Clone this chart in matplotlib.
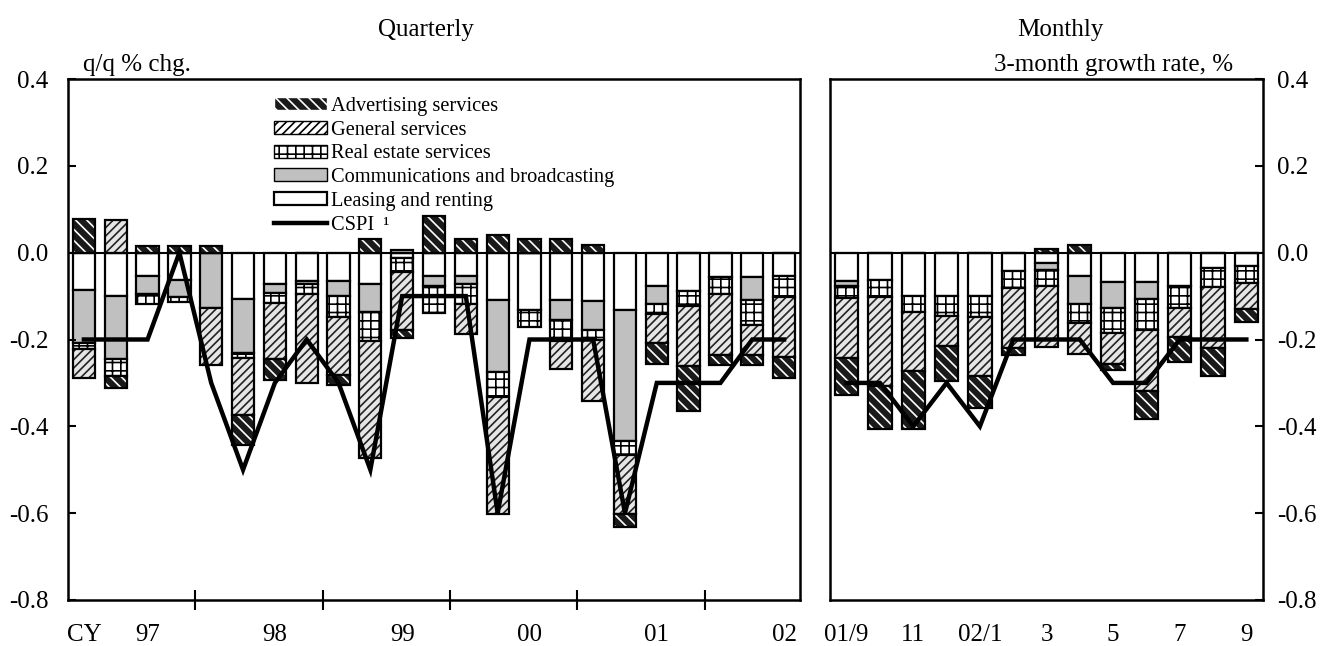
import numpy as np
import matplotlib.pyplot as plt
from matplotlib.patches import Patch
from matplotlib.lines import Line2D

plt.rcParams['font.family'] = ['Liberation Serif', 'DejaVu Serif']
plt.rcParams['axes.unicode_minus'] = False
plt.rcParams['hatch.linewidth'] = 1.2

# quarterly, CY97 Q1 .. CY02 Q3
q_leasing = [-0.087, -0.100, -0.053, -0.064, 0, -0.106, -0.073, -0.066, -0.066, -0.073, -0.012, -0.054,
             -0.053, -0.110, -0.131, -0.110, -0.112, -0.133, -0.077, -0.089, -0.056, -0.056, -0.054]
q_comms = [-0.121, -0.144, -0.042, -0.039, -0.127, -0.126, -0.020, -0.007, -0.034, -0.064, 0.007, -0.023,
           -0.019, -0.165, 0, -0.044, -0.067, -0.300, -0.041, 0, 0, -0.054, 0]
q_realestate = [-0.013, -0.041, -0.024, -0.010, 0, -0.010, -0.023, -0.023, -0.049, -0.067, -0.032, -0.062,
                -0.047, -0.058, -0.041, -0.050, -0.023, -0.032, -0.023, -0.034, -0.040, -0.056, -0.049]
q_general = [-0.067, 0.075, 0, 0, -0.131, -0.131, -0.130, -0.204, -0.132, -0.268, -0.133, 0,
             -0.068, -0.269, 0, -0.064, -0.139, -0.137, -0.067, -0.139, -0.139, -0.069, -0.138]
q_advert = [0.077, -0.026, 0.015, 0.015, 0.015, -0.069, -0.048, 0, -0.023, 0.032, -0.019, 0.084,
            0.032, 0.040, 0.032, 0.032, 0.017, -0.030, -0.048, -0.102, -0.024, -0.024, -0.047]
q_cspi = [-0.2, -0.2, -0.2, 0.0, -0.3, -0.5, -0.3, -0.2, -0.3, -0.5, -0.1, -0.1,
          -0.1, -0.6, -0.2, -0.2, -0.2, -0.6, -0.3, -0.3, -0.3, -0.2, -0.2]
q_labels = ['CY', '97', '98', '99', '00', '01', '02']
q_label_pos = [0, 2, 6, 10, 14, 18, 22]

# monthly, 01/9 .. 02/9
m_leasing = [-0.066, -0.064, -0.099, -0.099, -0.100, -0.043, -0.023, -0.054, -0.067, -0.067, -0.077, -0.035, -0.030]
m_comms = [-0.011, 0, 0, 0, 0, 0, -0.018, -0.065, -0.060, -0.039, 0, 0, 0]
m_realestate = [-0.027, -0.038, -0.038, -0.047, -0.048, -0.038, -0.036, -0.043, -0.058, -0.071, -0.050, -0.045, -0.040]
m_general = [-0.138, -0.206, -0.136, -0.068, -0.137, -0.138, -0.141, -0.071, -0.071, -0.141, -0.068, -0.140, -0.060]
m_advert = [-0.086, -0.098, -0.134, -0.082, -0.073, -0.016, 0.008, 0.017, -0.015, -0.064, -0.057, -0.065, -0.030]
m_cspi = [-0.3, -0.3, -0.4, -0.3, -0.4, -0.2, -0.2, -0.2, -0.3, -0.3, -0.2, -0.2, -0.2]
m_labels = ['01/9', '11', '02/1', '3', '5', '7', '9']
m_label_pos = [0, 2, 4, 6, 8, 10, 12]

y_ticks = [-0.8, -0.6, -0.4, -0.2, 0.0, 0.2, 0.4]
y_ticklabels = ['-0.8', '-0.6', '-0.4', '-0.2', '0.0', '0.2', '0.4']

# stacking order from zero outward: (face, hatch colour, hatch)
styles = [('white', 'black', ''),            # leasing
          ('#c0c0c0', 'black', ''),          # comms
          ('white', 'black', '++'),          # real estate
          ('#e6e6e6', '#222222', '////'),    # general
          ('#1a1a1a', 'white', '\\\\\\')]    # advertising


def draw_panel(ax, series, cspi):
    n = len(cspi)
    x = np.arange(n)
    pos = np.zeros(n)
    neg = np.zeros(n)
    for vals, (face, hc, hatch) in zip(series, styles):
        v = np.array(vals, dtype=float)
        bottom = np.where(v >= 0, pos, neg)
        ax.bar(x, v, 0.7, bottom=bottom, color=face, edgecolor=hc, hatch=hatch, linewidth=0)
        ax.bar(x, v, 0.7, bottom=bottom, facecolor='none', edgecolor='black', linewidth=1.6)
        pos += np.clip(v, 0, None)
        neg += np.clip(v, None, 0)
    ax.axhline(0, color='black', lw=1.5, zorder=1)
    ax.plot(x, cspi, color='black', lw=3.2, solid_joinstyle='miter', zorder=5)
    ax.set_xlim(-0.5, n - 0.5)
    ax.set_ylim(-0.8, 0.4)
    ax.set_yticks(y_ticks)
    ax.set_yticklabels(y_ticklabels)
    for s in ax.spines.values():
        s.set_linewidth(1.8)


fig = plt.figure(figsize=(13.24, 6.46), dpi=100)
ax1 = fig.add_axes([68 / 1324, 46 / 646, 732 / 1324, 521 / 646])
ax2 = fig.add_axes([830 / 1324, 46 / 646, 433 / 1324, 521 / 646])

draw_panel(ax1, [q_leasing, q_comms, q_realestate, q_general, q_advert], q_cspi)
draw_panel(ax2, [m_leasing, m_comms, m_realestate, m_general, m_advert], m_cspi)

ax1.set_xticks([3.5, 7.5, 11.5, 15.5, 19.5])
ax1.tick_params(axis='x', direction='inout', length=14, width=1.5, labelbottom=False)
ax1.tick_params(axis='y', direction='in', length=6, width=1.5, labelsize=18, pad=14)
for lab, p in zip(q_labels, q_label_pos):
    ax1.text(p, -0.068, lab, transform=ax1.get_xaxis_transform(), ha='center', va='center', fontsize=18)

ax2.set_xticks([])
ax2.tick_params(axis='y', direction='in', length=6, width=1.5, labelsize=18, pad=10,
                left=False, labelleft=False, right=True, labelright=True)
for lab, p in zip(m_labels, m_label_pos):
    ax2.text(p, -0.068, lab, transform=ax2.get_xaxis_transform(), ha='center', va='center', fontsize=18)

fig.text(426 / 1324, 1 - 30 / 646, 'Quarterly', ha='center', va='center', fontsize=18)
fig.text(1060 / 1324, 1 - 30 / 646, 'Monthly', ha='center', va='center', fontsize=18)
fig.text(83 / 1324, 1 - 65 / 646, 'q/q % chg.', ha='left', va='center', fontsize=18)
fig.text(1233 / 1324, 1 - 65 / 646, '3-month growth rate, %', ha='right', va='center', fontsize=18)

handles = [Patch(facecolor='#1a1a1a', edgecolor='white', hatch='\\\\\\', label='Advertising services'),
           Patch(facecolor='white', edgecolor='black', hatch='////', label='General services'),
           Patch(facecolor='white', edgecolor='black', hatch='++', label='Real estate services'),
           Patch(facecolor='#c0c0c0', edgecolor='black', label='Communications and broadcasting'),
           Patch(facecolor='white', edgecolor='black', lw=1.6, label='Leasing and renting'),
           Line2D([], [], color='black', lw=3.2, label='CSPI \u2009\u00b9')]
ax1.legend(handles=handles, loc='upper left', bbox_to_anchor=(0.267, 0.985), frameon=False,
           fontsize=14.7, handlelength=2.6, handleheight=0.6, handletextpad=0.2,
           labelspacing=0.23, borderpad=0)

fig.savefig('out.png', dpi=100)
